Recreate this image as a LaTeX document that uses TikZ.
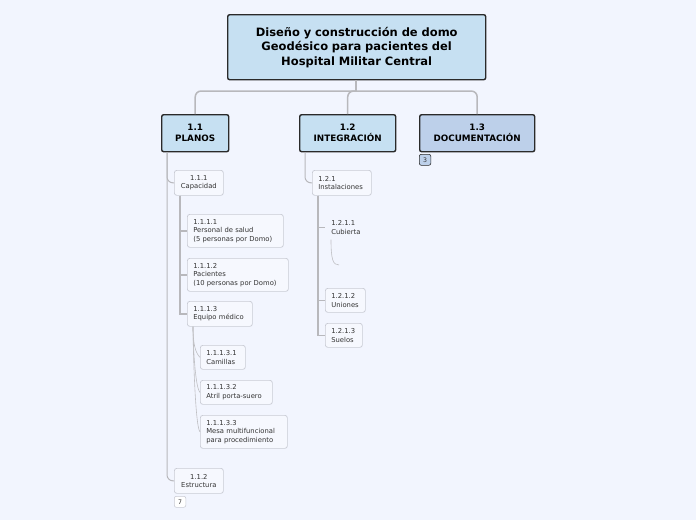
\documentclass[tikz,border=0pt]{standalone}
\usepackage{fontspec}
\setmainfont{DejaVu Sans}
\usetikzlibrary{positioning}

\definecolor{bg}{HTML}{F2F5FE}
\definecolor{topfill}{HTML}{C6E0F2}
\definecolor{docfill}{HTML}{BDD0EA}
\definecolor{topline}{HTML}{2A2A2A}
\definecolor{leaffill}{HTML}{F6F8FE}
\definecolor{leafline}{HTML}{C9CBD4}
\definecolor{txt}{HTML}{333333}
\definecolor{wire}{HTML}{B8B8BC}

\tikzset{
  topbox/.style={draw=topline, fill=topfill, line width=1.4pt, rounded corners=2pt,
    anchor=north west, align=center, inner xsep=4pt, inner ysep=0pt,
    font=\bfseries\fontsize{8.8}{11}\selectfont, text=black},
  leaf/.style 2 args={draw=leafline, fill=leaffill, line width=0.7pt, rounded corners=2.5pt,
    anchor=north west, align=left, inner xsep=6pt, inner ysep=0pt,
    text width=#1, minimum height=#2,
    font=\fontsize{6.8}{8.5}\selectfont, text=txt},
  badge/.style={draw=#1, line width=0.6pt, rounded corners=2pt, anchor=north west,
    minimum width=11.5pt, minimum height=11pt, inner sep=0pt,
    font=\fontsize{6.2}{6.2}\selectfont, text=txt},
  trunk/.style={draw=wire, line width=1.5pt},
  link/.style={draw=wire, line width=1pt},
  twig/.style={draw=wire!90, line width=0.6pt}
}

\begin{document}
\begin{tikzpicture}[x=1pt, y=-1pt]
  \useasboundingbox[fill=bg] (0,0) rectangle (696,520);

  % ROOT
  \node[topbox, text width=250, minimum height=65, font=\bfseries\fontsize{11.5}{14.5}\selectfont]
    (root) at (227,14) {Diseño y construcción de domo\\Geodésico para pacientes del\\Hospital Militar Central};

  % Level 1
  \node[topbox, text width=59, minimum height=37] (planos) at (161,114) {1.1\\PLANOS};
  \node[topbox, text width=88, minimum height=37] (integ) at (299,114) {1.2\\INTEGRACIÓN};
  \node[topbox, fill=docfill, text width=107, minimum height=37] (docu) at (419,114) {1.3\\DOCUMENTACIÓN};
  \node[badge=topline, fill=docfill] (docn) at (419,154) {3};

  % Root connectors
  \coordinate (hub) at (356,91);
  \draw[trunk] (root.south -| hub) -- (hub);
  \draw[trunk, rounded corners=6pt] (hub) -| (planos.north);
  \draw[trunk, rounded corners=6pt] (hub) -| (integ.north);
  \draw[trunk, rounded corners=6pt] (hub) -| (docu.north);

  % PLANOS branch
  \node[leaf={37}{25}, align=center] (cap) at (174,170) {1.1.1\\Capacidad};
  \node[leaf={84}{33}] (salud) at (187,214) {1.1.1.1\\Personal de salud\\(5 personas por Domo)};
  \node[leaf={89}{33}] (pacie) at (187,258) {1.1.1.2\\Pacientes\\(10 personas por Domo)};
  \node[leaf={53}{25}] (equipo) at (187,301) {1.1.1.3\\Equipo médico};
  \node[leaf={33}{24}] (cami) at (200,345) {1.1.1.3.1\\Camillas};
  \node[leaf={60}{24}] (atril) at (200,380) {1.1.1.3.2\\Atril porta-suero};
  \node[leaf={75}{33}] (mesa) at (200,415) {1.1.1.3.3\\Mesa multifuncional\\para procedimiento};
  \node[leaf={37}{25}, align=center] (estr) at (174,468) {1.1.2\\Estructura};
  \node[badge=leafline, fill=white] (estrn) at (174,496) {7};

  \draw[link, rounded corners=6pt] ([xshift=6pt]planos.south west) |- (cap.west);
  \draw[link, rounded corners=6pt] ([xshift=6pt]planos.south west) |- (estr.west);
  \draw[trunk] ([xshift=6pt]cap.south west) |- (salud.west);
  \draw[trunk] ([xshift=6pt]cap.south west) |- (pacie.west);
  \draw[trunk] ([xshift=6pt]cap.south west) |- (equipo.west);
  \coordinate (eqfoot) at ([xshift=6pt]equipo.south west);
  \foreach \kid in {cami, atril, mesa}
    \draw[twig] (eqfoot) .. controls +(0,16) and +(-5,-5) .. (\kid.west);

  % INTEGRACION branch
  \node[leaf={47}{25}] (inst) at (312,170) {1.2.1\\Instalaciones};
  \node[leaf={28}{24}, draw=none, fill=none] (cubi) at (325,215) {1.2.1.1\\Cubierta};
  \node[leaf={28}{24}] (union) at (325,288) {1.2.1.2\\Uniones};
  \node[leaf={25}{24}] (suelo) at (325,323) {1.2.1.3\\Suelos};
  \coordinate (cubend) at (339,265);

  \draw[link, rounded corners=6pt] ([xshift=6pt]integ.south west) |- (inst.west);
  \draw[trunk] ([xshift=6pt]inst.south west) |- (cubi.west);
  \draw[trunk] ([xshift=6pt]inst.south west) |- (union.west);
  \draw[trunk] ([xshift=6pt]inst.south west) |- (suelo.west);
  \draw[twig] ([xshift=6pt]cubi.south west) .. controls +(0,20) and +(-6,0) .. (cubend);
\end{tikzpicture}
\end{document}
